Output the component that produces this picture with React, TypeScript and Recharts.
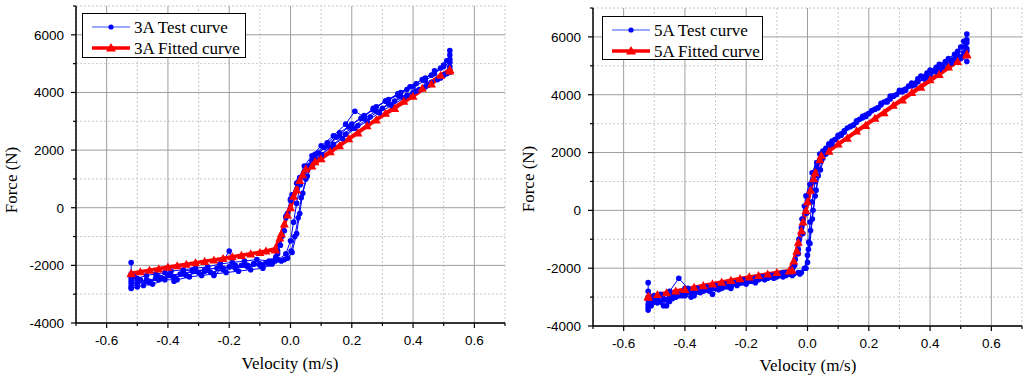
import { Line, LineChart, ReferenceLine, XAxis, YAxis } from 'recharts';

type Pt = [number, number];

// velocity (m/s), force (N)
const xTicks = [-0.7, -0.6, -0.5, -0.4, -0.3, -0.2, -0.1, 0, 0.1, 0.2, 0.3, 0.4, 0.5, 0.6, 0.7];
const xLabelTicks = [-0.6, -0.4, -0.2, 0, 0.2, 0.4, 0.6];
const yTicks = [-4000, -3000, -2000, -1000, 0, 1000, 2000, 3000, 4000, 5000, 6000, 7000];
const yLabelTicks = [-4000, -2000, 0, 2000, 4000, 6000];

const test3aLoop1: Pt[] = [
  [-0.52, -2750], [-0.5, -2650], [-0.47, -2550], [-0.44, -2450], [-0.4, -2350], [-0.36, -2300], [-0.32, -2200],
  [-0.28, -2150], [-0.24, -2100], [-0.2, -2050], [-0.16, -2000], [-0.12, -1950], [-0.08, -1900], [-0.05, -1850],
  [-0.02, -1800], [0.002, -1500], [0.014, -1000], [0.025, -350], [0.035, 350], [0.05, 1000], [0.07, 1500],
  [0.1, 1850], [0.14, 2200], [0.18, 2550], [0.22, 2850], [0.26, 3150], [0.3, 3450], [0.34, 3700], [0.38, 3900],
  [0.42, 4100], [0.46, 4350], [0.5, 4600], [0.52, 4800],
  [0.52, 5050], [0.5, 4900], [0.47, 4650], [0.44, 4400], [0.4, 4200], [0.36, 4000], [0.32, 3750], [0.28, 3500],
  [0.24, 3200], [0.2, 2900], [0.16, 2600], [0.12, 2250], [0.08, 1850], [0.05, 1400], [0.025, 900], [0, 300],
  [-0.015, -300], [-0.028, -950], [-0.042, -1500], [-0.06, -1850], [-0.1, -1950], [-0.14, -2000], [-0.18, -2100],
  [-0.22, -2150], [-0.26, -2250], [-0.3, -2250], [-0.34, -2350], [-0.38, -2400], [-0.42, -2450], [-0.46, -2550],
  [-0.5, -2600], [-0.52, -2650],
];
const test3aLoop2: Pt[] = [
  [-0.52, -2550], [-0.51, -2400], [-0.49, -2500], [-0.46, -2600], [-0.43, -2400], [-0.39, -2200], [-0.35, -2150],
  [-0.31, -2100], [-0.27, -2050], [-0.23, -1950], [-0.19, -1900], [-0.15, -1850], [-0.11, -1800], [-0.07, -1850],
  [-0.04, -1800], [-0.015, -1600], [0, -1150], [0.01, -500], [0.02, 150], [0.032, 800], [0.048, 1300],
  [0.07, 1650], [0.09, 1900], [0.12, 2150], [0.16, 2500], [0.2, 2750], [0.24, 3100], [0.28, 3350], [0.32, 3600],
  [0.36, 3850], [0.4, 4000], [0.44, 4200], [0.48, 4450], [0.51, 4650], [0.52, 4900],
  [0.52, 5300], [0.51, 5100], [0.49, 4850], [0.46, 4600], [0.43, 4450], [0.39, 4200], [0.35, 3950], [0.31, 3700],
  [0.27, 3400], [0.23, 3100], [0.19, 2800], [0.15, 2450], [0.11, 2100], [0.08, 1750], [0.055, 1450], [0.03, 1050],
  [0.005, 450], [-0.01, -200], [-0.02, -800], [-0.033, -1300], [-0.048, -1700], [-0.07, -1950], [-0.1, -2000],
  [-0.14, -2050], [-0.18, -2000], [-0.2, -1500], [-0.23, -2050], [-0.27, -2150], [-0.31, -2200], [-0.35, -2300],
  [-0.39, -2350], [-0.43, -2500], [-0.47, -2500], [-0.5, -2600], [-0.52, -2450],
];
const test3aLoop3: Pt[] = [
  [-0.52, -1900], [-0.52, -2300], [-0.5, -2450], [-0.47, -2350], [-0.44, -2300], [-0.41, -2250], [-0.38, -2550],
  [-0.35, -2200], [-0.32, -2150], [-0.28, -2200], [-0.25, -2350], [-0.22, -2100], [-0.18, -2050], [-0.15, -2000],
  [-0.12, -1950], [-0.09, -2000], [-0.06, -1900], [-0.03, -1850], [-0.01, -1750], [0.005, -1550], [0.02, -900],
  [0.03, -200], [0.04, 500], [0.055, 1100], [0.075, 1550], [0.1, 1800], [0.13, 2100], [0.17, 2400], [0.21, 2750],
  [0.25, 3000], [0.29, 3300], [0.33, 3550], [0.37, 3800], [0.41, 4050], [0.45, 4250], [0.49, 4500], [0.52, 4700],
  [0.52, 5450], [0.52, 5150], [0.5, 4950], [0.47, 4750], [0.44, 4500], [0.41, 4300], [0.38, 4100], [0.35, 3900],
  [0.31, 3700], [0.27, 3450], [0.24, 3150], [0.21, 3350], [0.18, 2900], [0.14, 2500], [0.1, 2150], [0.07, 1800],
  [0.045, 1450], [0.02, 850], [0.0, 250], [-0.015, -350], [-0.028, -1000], [-0.042, -1600], [-0.06, -1950],
  [-0.09, -2100], [-0.13, -2150], [-0.17, -2200], [-0.21, -2250], [-0.25, -2300], [-0.29, -2350], [-0.33, -2400],
  [-0.37, -2500], [-0.41, -2500], [-0.45, -2650], [-0.48, -2700], [-0.5, -2750], [-0.52, -2800],
];
const fit3a: Pt[] = [
  [-0.52, -2270], [-0.46, -2170], [-0.4, -2060], [-0.34, -1960], [-0.28, -1860], [-0.22, -1760], [-0.16, -1650],
  [-0.1, -1550], [-0.05, -1460], [-0.035, -1050], [-0.02, -560], [0, 0], [0.02, 620], [0.04, 1150], [0.07, 1450],
  [0.1, 1700], [0.16, 2150], [0.22, 2600], [0.28, 3050], [0.34, 3450], [0.4, 3870], [0.46, 4300], [0.52, 4750],
  [0.52, 4800], [0.49, 4600], [0.43, 4150], [0.37, 3700], [0.31, 3280], [0.25, 2850], [0.19, 2400], [0.13, 1950],
  [0.08, 1600], [0.05, 1350], [0.03, 950], [0.01, 400], [-0.01, -250], [-0.03, -900], [-0.05, -1420],
  [-0.08, -1500], [-0.13, -1600], [-0.19, -1700], [-0.25, -1810], [-0.31, -1910], [-0.37, -2010], [-0.43, -2120],
  [-0.49, -2220], [-0.52, -2290],
];

const test5aLoop1: Pt[] = [
  [-0.52, -3350], [-0.51, -3150], [-0.49, -3050], [-0.47, -3100], [-0.45, -3000], [-0.42, -2900], [-0.39, -2850],
  [-0.36, -2800], [-0.33, -2750], [-0.3, -2700], [-0.27, -2650], [-0.24, -2550], [-0.21, -2500], [-0.18, -2450],
  [-0.15, -2350], [-0.12, -2300], [-0.09, -2250], [-0.06, -2200], [-0.03, -2150], [-0.01, -2000], [0, -1550],
  [0.004, -1100], [0.008, -400], [0.015, 300], [0.025, 1000], [0.04, 1700], [0.06, 2150], [0.09, 2450],
  [0.12, 2750], [0.16, 3050], [0.2, 3350], [0.24, 3650], [0.28, 3950], [0.32, 4200], [0.36, 4450], [0.4, 4700],
  [0.44, 4950], [0.48, 5250], [0.51, 5450], [0.52, 5600],
  [0.52, 6100], [0.51, 5850], [0.49, 5500], [0.46, 5250], [0.43, 5050], [0.4, 4850], [0.37, 4650], [0.34, 4400],
  [0.31, 4150], [0.28, 3950], [0.25, 3750], [0.22, 3500], [0.19, 3300], [0.16, 3100], [0.13, 2850], [0.1, 2600],
  [0.07, 2300], [0.04, 1950], [0.015, 1300], [-0.005, 500], [-0.018, -300], [-0.028, -1000], [-0.04, -1700],
  [-0.055, -2100], [-0.08, -2150], [-0.11, -2250], [-0.14, -2300], [-0.17, -2350], [-0.2, -2450], [-0.23, -2550],
  [-0.26, -2600], [-0.29, -2650], [-0.32, -2700], [-0.35, -2800], [-0.38, -2850], [-0.41, -2900], [-0.44, -2950],
  [-0.47, -3050], [-0.5, -3150], [-0.52, -3250],
];
const test5aLoop2: Pt[] = [
  [-0.52, -2500], [-0.52, -2800], [-0.5, -3000], [-0.48, -3150], [-0.46, -3300], [-0.44, -3050], [-0.42, -2950],
  [-0.4, -2700], [-0.37, -2950], [-0.34, -2700], [-0.31, -2900], [-0.28, -2600], [-0.25, -2700], [-0.22, -2500],
  [-0.19, -2450], [-0.16, -2400], [-0.13, -2350], [-0.1, -2300], [-0.07, -2250], [-0.045, -2200], [-0.02, -2150],
  [0, -1800], [0.008, -1150], [0.016, -300], [0.025, 500], [0.035, 1200], [0.05, 1800], [0.07, 2250], [0.1, 2550],
  [0.14, 2900], [0.18, 3200], [0.22, 3500], [0.26, 3800], [0.3, 4100], [0.34, 4300], [0.38, 4550], [0.42, 4800],
  [0.46, 5050], [0.5, 5250], [0.52, 5500],
  [0.52, 5800], [0.5, 5650], [0.48, 5400], [0.45, 5150], [0.42, 4950], [0.39, 4750], [0.36, 4550], [0.33, 4300],
  [0.3, 4150], [0.27, 3950], [0.24, 3700], [0.21, 3450], [0.18, 3250], [0.15, 2950], [0.12, 2700], [0.09, 2450],
  [0.06, 2100], [0.03, 1650], [0.008, 900], [-0.01, 150], [-0.02, -600], [-0.03, -1350], [-0.042, -1900],
  [-0.06, -2150], [-0.09, -2200], [-0.12, -2250], [-0.15, -2300], [-0.18, -2400], [-0.21, -2400], [-0.24, -2500],
  [-0.27, -2550], [-0.3, -2600], [-0.33, -2650], [-0.36, -2700], [-0.39, -2700], [-0.42, -2350], [-0.45, -2800],
  [-0.48, -2900], [-0.5, -2950], [-0.52, -3100],
];
const test5aLoop3: Pt[] = [
  [-0.52, -3450], [-0.51, -3300], [-0.49, -3200], [-0.47, -3300], [-0.45, -3150], [-0.43, -3000], [-0.41, -2950],
  [-0.38, -3000], [-0.35, -2850], [-0.32, -2800], [-0.29, -2750], [-0.26, -2650], [-0.23, -2600], [-0.2, -2550],
  [-0.17, -2500], [-0.14, -2400], [-0.11, -2350], [-0.08, -2300], [-0.05, -2250], [-0.025, -2200], [-0.005, -2000],
  [0.003, -1350], [0.01, -700], [0.018, 0], [0.028, 700], [0.042, 1400], [0.06, 1950], [0.08, 2300], [0.11, 2600],
  [0.15, 2950], [0.19, 3250], [0.23, 3550], [0.27, 3850], [0.31, 4100], [0.35, 4350], [0.39, 4600], [0.43, 4850],
  [0.47, 5100], [0.5, 5300], [0.52, 5150],
  [0.52, 5900], [0.51, 5650], [0.49, 5350], [0.47, 5200], [0.44, 5000], [0.41, 4800], [0.38, 4600], [0.35, 4350],
  [0.32, 4150], [0.29, 4000], [0.26, 3750], [0.23, 3550], [0.2, 3350], [0.17, 3150], [0.14, 2900], [0.11, 2650],
  [0.08, 2400], [0.05, 2050], [0.03, 1500], [0.013, 700], [-0.003, -100], [-0.015, -800], [-0.03, -1500],
  [-0.048, -2000], [-0.07, -2150], [-0.1, -2250], [-0.13, -2350], [-0.16, -2350], [-0.19, -2450], [-0.22, -2500],
  [-0.25, -2650], [-0.28, -2700], [-0.31, -2700], [-0.34, -2800], [-0.37, -2850], [-0.4, -2950], [-0.43, -3000],
  [-0.46, -3100], [-0.49, -3150], [-0.52, -3000],
];
const fit5a: Pt[] = [
  [-0.52, -2970], [-0.46, -2850], [-0.4, -2730], [-0.34, -2600], [-0.28, -2480], [-0.22, -2360], [-0.16, -2250],
  [-0.1, -2150], [-0.05, -2070], [-0.035, -1400], [-0.02, -700], [-0.005, 0], [0.01, 700], [0.025, 1300],
  [0.045, 1900], [0.1, 2300], [0.16, 2750], [0.22, 3190], [0.28, 3640], [0.34, 4080], [0.4, 4520], [0.46, 4960],
  [0.52, 5410],
  [0.52, 5380], [0.49, 5150], [0.43, 4700], [0.37, 4260], [0.31, 3820], [0.25, 3380], [0.19, 2940], [0.13, 2500],
  [0.07, 2050], [0.04, 1750], [0.02, 1100], [0, 300], [-0.015, -400], [-0.03, -1100], [-0.045, -1750],
  [-0.06, -2090], [-0.13, -2200], [-0.19, -2300], [-0.25, -2420], [-0.31, -2540], [-0.37, -2660], [-0.43, -2790],
  [-0.49, -2910], [-0.52, -3000],
];

const BLUE = '#0000ff';
const RED = '#ff0000';
const SANS = '"Liberation Sans", Arial, sans-serif';
const SERIF = '"Liberation Serif", "Times New Roman", serif';

const toRows = (pts: Pt[]) => pts.map(([v, f]) => ({ v, f }));

function BottomTick(props: any) {
  const { x, y, payload } = props;
  const major = xLabelTicks.includes(payload.value);
  return (
    <g>
      <line x1={x} y1={y} x2={x} y2={y + (major ? 5 : 3)} stroke="#000" strokeWidth={1.2} />
      {major && (
        <text x={x} y={y + 22} textAnchor="middle" fontFamily={SANS} fontSize={13.5} fill="#000">
          {payload.value.toFixed(1)}
        </text>
      )}
    </g>
  );
}

function TopTick(props: any) {
  const { x, y, payload } = props;
  const major = xLabelTicks.includes(payload.value);
  return <line x1={x} y1={y} x2={x} y2={y + (major ? 6 : 3)} stroke="#000" strokeWidth={1.2} />;
}

function LeftTick(props: any) {
  const { x, y, payload } = props;
  const major = yLabelTicks.includes(payload.value);
  return (
    <g>
      <line x1={x - (major ? 5 : 3)} y1={y} x2={x} y2={y} stroke="#000" strokeWidth={1.2} />
      {major && (
        <text x={x - 12} y={y} dy="0.36em" textAnchor="end" fontFamily={SANS} fontSize={13.5} fill="#000">
          {payload.value}
        </text>
      )}
    </g>
  );
}

function RightTick(props: any) {
  const { x, y, payload } = props;
  const major = yLabelTicks.includes(payload.value);
  return <line x1={x - (major ? 6 : 3)} y1={y} x2={x} y2={y} stroke="#000" strokeWidth={1.2} />;
}

function Triangle(props: any) {
  const { cx, cy, index } = props;
  if (cx == null || cy == null) return <g key={`t${index}`} />;
  const s = 4.5;
  return (
    <polygon
      key={`t${index}`}
      points={`${cx},${cy - s} ${cx - s},${cy + s * 0.8} ${cx + s},${cy + s * 0.8}`}
      fill={RED}
    />
  );
}

interface PanelProps {
  loops: Pt[][];
  fit: Pt[];
  margin: { top: number; right: number; bottom: number; left: number };
}

function Panel({ loops, fit, margin }: PanelProps) {
  return (
    <LineChart width={512} height={381} margin={margin}>
      {xTicks
        .filter((v) => !xLabelTicks.includes(v))
        .map((v) => (
          <ReferenceLine key={`mx${v}`} x={v} stroke="#c8c8c8" strokeDasharray="2 2" />
        ))}
      {yTicks
        .filter((v) => !yLabelTicks.includes(v))
        .map((v) => (
          <ReferenceLine key={`my${v}`} y={v} stroke="#c8c8c8" strokeDasharray="2 2" />
        ))}
      {xLabelTicks.map((v) => (
        <ReferenceLine key={`gx${v}`} x={v} stroke="#9e9e9e" />
      ))}
      {yLabelTicks.map((v) => (
        <ReferenceLine key={`gy${v}`} y={v} stroke="#9e9e9e" />
      ))}
      <XAxis
        dataKey="v"
        type="number"
        domain={[-0.7, 0.7]}
        allowDataOverflow
        ticks={xTicks}
        interval={0}
        height={30}
        tickSize={0}
        tickMargin={0}
        tickLine={false}
        tick={<BottomTick />}
        axisLine={{ stroke: '#000', strokeWidth: 1.5 }}
      />
      <XAxis
        xAxisId="top"
        orientation="top"
        dataKey="v"
        type="number"
        domain={[-0.7, 0.7]}
        allowDataOverflow
        ticks={xTicks}
        interval={0}
        height={0}
        tickSize={0}
        tickMargin={0}
        tickLine={false}
        tick={<TopTick />}
        axisLine={{ stroke: '#000', strokeWidth: 1.5 }}
      />
      <YAxis
        type="number"
        domain={[-4000, 7000]}
        allowDataOverflow
        ticks={yTicks}
        interval={0}
        width={60}
        tickSize={0}
        tickMargin={0}
        tickLine={false}
        tick={<LeftTick />}
        axisLine={{ stroke: '#000', strokeWidth: 1.5 }}
      />
      <YAxis
        yAxisId="right"
        orientation="right"
        type="number"
        domain={[-4000, 7000]}
        allowDataOverflow
        ticks={yTicks}
        interval={0}
        width={0}
        tickSize={0}
        tickMargin={0}
        tickLine={false}
        tick={<RightTick />}
        axisLine={{ stroke: '#000', strokeWidth: 1.5 }}
      />
      {loops.map((loop, i) => (
        <Line
          key={`test${i}`}
          data={toRows(loop)}
          dataKey="f"
          type="linear"
          stroke={BLUE}
          strokeWidth={1}
          dot={{ r: 2.8, fill: BLUE, stroke: 'none' }}
          activeDot={false}
          isAnimationActive={false}
        />
      ))}
      <Line
        data={toRows(fit)}
        dataKey="f"
        type="linear"
        stroke={RED}
        strokeWidth={3.5}
        dot={Triangle}
        activeDot={false}
        isAnimationActive={false}
      />
    </LineChart>
  );
}

function LegendBox({ x, y, w, h, label }: { x: number; y: number; w: number; h: number; label: string }) {
  const lx1 = x + 10;
  const lx2 = x + 48;
  const mx = (lx1 + lx2) / 2;
  const r1 = y + 14;
  const r2 = y + 35;
  return (
    <g>
      <rect x={x + 0.5} y={y + 0.5} width={w} height={h} fill="#fff" stroke="#000" strokeWidth={1} />
      <line x1={lx1} y1={r1} x2={lx2} y2={r1} stroke="#3355ff" strokeWidth={1} />
      <circle cx={mx} cy={r1} r={2.6} fill={BLUE} />
      <text x={x + 52} y={r1 + 6} fontFamily={SERIF} fontSize={17} fill="#000">
        {label} Test curve
      </text>
      <line x1={lx1} y1={r2} x2={lx2} y2={r2} stroke={RED} strokeWidth={3.5} />
      <polygon points={`${mx},${r2 - 5} ${mx - 5},${r2 + 3.5} ${mx + 5},${r2 + 3.5}`} fill={RED} />
      <text x={x + 52} y={r2 + 6} fontFamily={SERIF} fontSize={17} fill="#000">
        {label} Fitted curve
      </text>
    </g>
  );
}

export default function App() {
  return (
    <div style={{ position: 'absolute', left: 0, top: 0, width: 1024, height: 381, background: '#fff' }}>
      <div style={{ position: 'absolute', left: 0, top: 0 }}>
        <Panel
          loops={[test3aLoop1, test3aLoop2, test3aLoop3]}
          fit={fit3a}
          margin={{ top: 6, right: 7, bottom: 28, left: 16 }}
        />
      </div>
      <div style={{ position: 'absolute', left: 512, top: 0 }}>
        <Panel
          loops={[test5aLoop1, test5aLoop2, test5aLoop3]}
          fit={fit5a}
          margin={{ top: 8, right: 2, bottom: 25, left: 21 }}
        />
      </div>
      <svg
        width={1024}
        height={381}
        style={{ position: 'absolute', left: 0, top: 0, pointerEvents: 'none' }}
      >
        <LegendBox x={82} y={13} w={163} h={44} label="3A" />
        <LegendBox x={602} y={16} w={160} h={43} label="5A" />
        <text transform="translate(17,180) rotate(-90)" textAnchor="middle" fontFamily={SERIF} fontSize={17}>
          Force (N)
        </text>
        <text transform="translate(534,179) rotate(-90)" textAnchor="middle" fontFamily={SERIF} fontSize={17}>
          Force (N)
        </text>
        <text x={290} y={369} textAnchor="middle" fontFamily={SERIF} fontSize={17}>
          Velocity (m/s)
        </text>
        <text x={808} y={371} textAnchor="middle" fontFamily={SERIF} fontSize={17}>
          Velocity (m/s)
        </text>
      </svg>
    </div>
  );
}
